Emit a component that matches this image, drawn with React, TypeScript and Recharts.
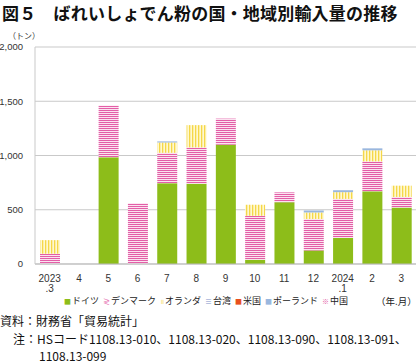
import React from 'react';
import { BarChart, Bar, XAxis, YAxis, CartesianGrid } from 'recharts';

// 年.月
const months = ['2023\n.3', '4', '5', '6', '7', '8', '9', '10', '11', '12', '2024\n.1', '2', '3'];

// トン
const germany = [0, 0, 985, 0, 745, 740, 1100, 40, 570, 125, 240, 670, 520];
const denmark = [95, 0, 475, 560, 280, 335, 240, 405, 90, 290, 360, 276, 98];
const netherlands = [125, 0, 0, 0, 95, 205, 0, 100, 0, 60, 62, 102, 104];
const taiwan = [0, 0, 0, 0, 0, 0, 0, 0, 0, 0, 0, 0, 0];
const usa = [0, 0, 0, 0, 0, 0, 0, 0, 0, 0, 0, 0, 0];
const poland = [0, 0, 0, 0, 10, 0, 0, 0, 0, 18, 18, 18, 0];
const china = [0, 0, 0, 0, 0, 0, 0, 0, 0, 0, 0, 0, 0];

const yTicks = [0, 500, 1000, 1500, 2000];

const data = months.map((m, i) => ({
    month: m,
    germany: germany[i],
    denmark: denmark[i],
    netherlands: netherlands[i],
    taiwan: taiwan[i],
    usa: usa[i],
    poland: poland[i],
    china: china[i],
}));

const font = '"Liberation Sans", Arial, "Noto Sans CJK JP", sans-serif';
const jpFont = '"Noto Sans CJK JP", sans-serif';

const MonthTick = (props: any) => {
    const { x, y, payload } = props;
    const parts = String(payload.value).split('\n');
    return (
        <g>
            {parts.map((p, i) => (
                <text key={i} x={x} y={y + 10 + i * 10} textAnchor="middle" fontSize={10} fill="#333" fontFamily={font}>
                    {p}
                </text>
            ))}
        </g>
    );
};

const legendItems = [
    { label: 'ドイツ', mark: '■', color: '#8dbd1a' },
    { label: 'デンマーク', mark: '≷', color: '#e35aa6' },
    { label: 'オランダ', mark: '॥', color: '#f5da55' },
    { label: '台湾', mark: '≡', color: '#7d8fc8' },
    { label: '米国', mark: '■', color: '#e8501e' },
    { label: 'ポーランド', mark: '■', color: '#9ab7de' },
    { label: '中国', mark: '※', color: '#e35aa6' },
];

const App: React.FC = () => {
    return (
        <div style={{ position: 'absolute', left: 0, top: 0, width: 420, height: 363, background: '#fff', fontFamily: jpFont, overflow: 'hidden' }}>
            <div style={{ position: 'absolute', left: 2, top: 0, fontSize: 17, fontWeight: 700, color: '#111', whiteSpace: 'nowrap', letterSpacing: 0.2 }}>
                図５　ばれいしょでん粉の国・地域別輸入量の推移
            </div>
            <div style={{ position: 'absolute', left: 8, top: 30, fontSize: 8, color: '#333' }}>（トン）</div>
            <BarChart
                width={420}
                height={300}
                data={data}
                margin={{ top: 47, right: 4, left: 0, bottom: 0 }}
                barSize={20}
                style={{ position: 'absolute', left: 0, top: 0 }}
            >
                <defs>
                    <pattern id="pinkZig" width="4" height="4" patternUnits="userSpaceOnUse">
                        <rect width="4" height="4" fill="#fbe3f0" />
                        <path d="M0 1 L1 0 L2 1 L3 0 L4 1 M0 3 L1 2 L2 3 L3 2 L4 3" stroke="#e04f9f" strokeWidth={0.9} fill="none" />
                    </pattern>
                    <pattern id="yellowStripe" width="3" height="3" patternUnits="userSpaceOnUse">
                        <rect width="3" height="3" fill="#fff8d0" />
                        <rect x="0" width="1.3" height="3" fill="#f5d748" />
                    </pattern>
                </defs>
                <CartesianGrid vertical={false} stroke="#c9c9c9" />
                <XAxis
                    dataKey="month"
                    tick={<MonthTick />}
                    tickLine={false}
                    axisLine={{ stroke: '#bbb' }}
                    interval={0}
                    height={36}
                />
                <YAxis
                    width={35}
                    domain={[0, 2000]}
                    ticks={yTicks}
                    tickFormatter={(v: number) => v.toLocaleString('en-US')}
                    tick={{ fontSize: 9.5, fill: '#333', fontFamily: font }}
                    tickLine={false}
                    tickSize={0}
                    axisLine={{ stroke: '#c9c9c9' }}
                    tickMargin={12}
                />
                <Bar dataKey="germany" stackId="a" fill="#8dbd1a" isAnimationActive={false} />
                <Bar dataKey="denmark" stackId="a" fill="url(#pinkZig)" isAnimationActive={false} />
                <Bar dataKey="netherlands" stackId="a" fill="url(#yellowStripe)" isAnimationActive={false} />
                <Bar dataKey="taiwan" stackId="a" fill="#7d8fc8" isAnimationActive={false} />
                <Bar dataKey="usa" stackId="a" fill="#e8501e" isAnimationActive={false} />
                <Bar dataKey="poland" stackId="a" fill="#9ab7de" isAnimationActive={false} />
                <Bar dataKey="china" stackId="a" fill="#e35aa6" isAnimationActive={false} />
            </BarChart>
            <div style={{ position: 'absolute', left: 64, top: 295, display: 'flex', fontSize: 9, lineHeight: '12px', color: '#222', whiteSpace: 'nowrap' }}>
                {legendItems.map((it) => (
                    <span key={it.label} style={{ marginRight: 4, display: 'flex', alignItems: 'center' }}>
                        <span style={{ color: it.color, fontSize: 7, marginRight: 1 }}>{it.mark}</span>
                        {it.label}
                    </span>
                ))}
            </div>
            <div style={{ position: 'absolute', left: 376, top: 295, fontSize: 9.5, lineHeight: '12px', color: '#222' }}>（年.月）</div>
            <div style={{ position: 'absolute', left: 0, top: 312, fontSize: 12, color: '#111', whiteSpace: 'nowrap' }}>
                資料：財務省「貿易統計」
            </div>
            <div style={{ position: 'absolute', left: 13, top: 330, fontSize: 12, color: '#111', whiteSpace: 'nowrap', lineHeight: '17px' }}>
                注：HSコード1108.13-010、1108.13-020、1108.13-090、1108.13-091、
                <br />
                <span style={{ marginLeft: 26 }}>1108.13-099</span>
            </div>
        </div>
    );
};

export default App;
